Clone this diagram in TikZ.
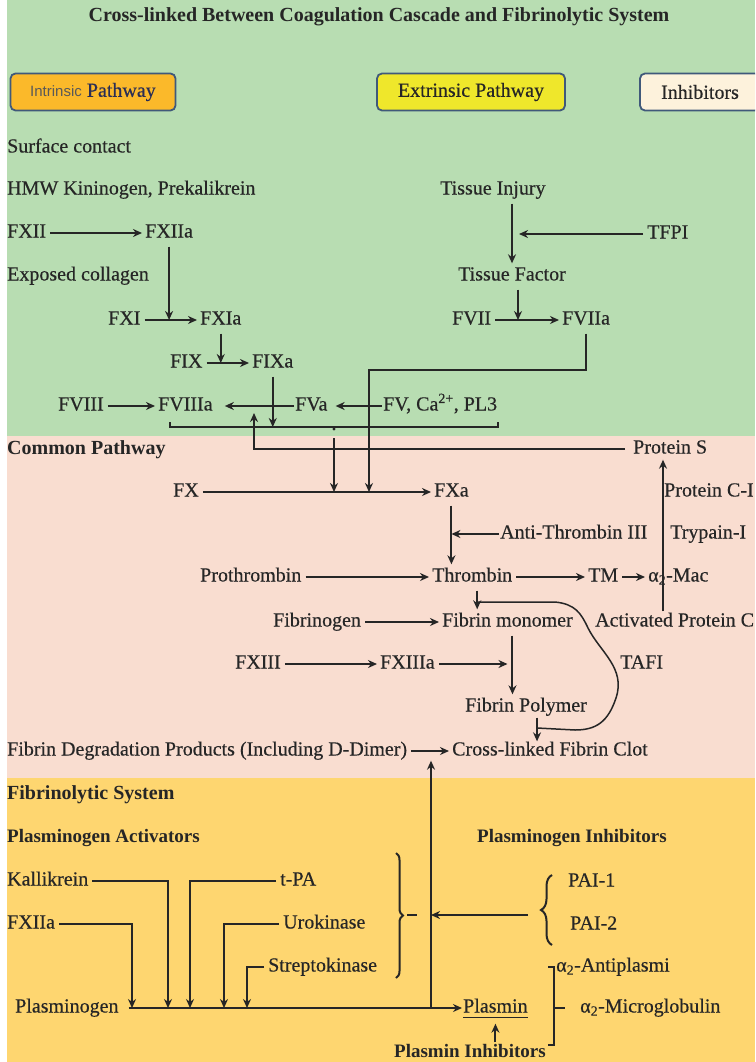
\documentclass[tikz,border=0pt]{standalone}
\usepackage{fontspec}
\setmainfont{Liberation Serif}[UprightFeatures={FakeBold=0.4}]
\setsansfont{Liberation Sans}
\usetikzlibrary{arrows.meta,decorations.pathreplacing}
\definecolor{bggreen}{HTML}{B8DDB2}
\definecolor{bgpink}{HTML}{F9DDD0}
\definecolor{bgyellow}{HTML}{FED670}
\definecolor{ink}{HTML}{262626}
\definecolor{edge}{HTML}{40597A}
\definecolor{intrfill}{HTML}{FBB92A}
\definecolor{extrfill}{HTML}{EFE72B}
\definecolor{inhfill}{HTML}{FDF2DC}
\definecolor{navy}{HTML}{2A2E55}
\begin{document}
\begin{tikzpicture}[x=1pt,y=-1pt,
  lbl/.style={anchor=west, inner sep=0pt, text height=14pt, text depth=5pt, text=ink, font=\fontsize{20}{24}\selectfont},
  hdr/.style={lbl, font=\fontsize{20}{24}\selectfont\bfseries},
  subhdr/.style={lbl, font=\fontsize{19}{23}\selectfont\bfseries},
  ln/.style={draw=ink, line width=2pt},
  arr/.style={ln, -{Stealth[length=9pt,width=8pt]}, shorten <=4pt, shorten >=3pt},
  tagbox/.style={draw=edge, line width=1.8pt, rounded corners=5pt, minimum height=37pt, inner sep=0pt, text=ink, font=\fontsize{20}{24}\selectfont}]
\clip (0,0) rectangle (755,1062);
\fill[white] (0,0) rectangle (755,1062);
\fill[bggreen] (7,0) rectangle (755,436);
\fill[bgpink] (7,436) rectangle (755,778);
\fill[bgyellow] (7,778) rectangle (755,1062);

\node[inner sep=0pt, text=ink, font=\fontsize{20}{24}\selectfont\bfseries] (title) at (379,17) {Cross-linked Between Coagulation Cascade and Fibrinolytic System};
\node[tagbox, fill=intrfill, minimum width=165pt] (intr) at (93,92) {{\sffamily\fontsize{15}{18}\selectfont\color{black!65}Intrinsic} {\color{navy}Pathway}};
\node[tagbox, fill=extrfill, minimum width=188pt] (extr) at (471,92) {Extrinsic Pathway};
\node[tagbox, fill=inhfill, minimum width=120pt] (inhib) at (700,92) {Inhibitors};

% intrinsic and extrinsic
\node[lbl] (surf) at (7,148) {Surface contact};
\node[lbl] (hmw) at (7,190) {HMW Kininogen, Prekalikrein};
\node[lbl] (fxii) at (7,233) {FXII};
\node[lbl] (fxiia) at (145,233) {FXIIa};
\node[lbl] (expcol) at (7,276) {Exposed collagen};
\node[lbl] (fxi) at (108,320) {FXI};
\node[lbl] (fxia) at (200,320) {FXIa};
\node[lbl] (fix) at (170,363) {FIX};
\node[lbl] (fixa) at (252,363) {FIXa};
\node[lbl] (fviii) at (58,406) {FVIII};
\node[lbl] (fviiia) at (158,406) {FVIIIa};
\node[lbl] (fva) at (295,406) {FVa};
\node[lbl] (fvmix) at (383,406) {FV, Ca\textsuperscript{2+}, PL3};
\node[lbl] (tinj) at (440,190) {Tissue Injury};
\node[lbl] (tfpi) at (647,234) {TFPI};
\node[lbl] (tfac) at (458,276) {Tissue Factor};
\node[lbl] (fvii) at (452,320) {FVII};
\node[lbl] (fviia) at (562,320) {FVIIa};

% common pathway
\node[hdr] (common) at (7,450) {Common Pathway};
\node[lbl] (prots) at (633,449) {Protein S};
\node[lbl] (fx) at (173,492) {FX};
\node[lbl] (fxa) at (434,492) {FXa};
\node[lbl] (protci) at (664,492) {Protein C-I};
\node[lbl] (antith) at (500,534) {Anti-Thrombin III};
\node[lbl] (trypain) at (670,534) {Trypain-I};
\node[lbl] (prothr) at (200,577) {Prothrombin};
\node[lbl] (thromb) at (432,577) {Thrombin};
\node[lbl] (tm) at (588,577) {TM};
\node[lbl] (amac) at (648,577) {α\textsubscript{2}-Mac};
\node[lbl] (fibgen) at (273,622) {Fibrinogen};
\node[lbl] (fibmono) at (442,622) {Fibrin monomer};
\node[lbl] (apc) at (595,622) {Activated Protein C};
\node[lbl] (fxiii) at (235,664) {FXIII};
\node[lbl] (fxiiia) at (380,664) {FXIIIa};
\node[lbl] (tafi) at (620,664) {TAFI};
\node[lbl] (fibpoly) at (465,707) {Fibrin Polymer};
\node[lbl] (fdp) at (7,751) {Fibrin Degradation Products (Including D-Dimer)};
\node[lbl] (clot) at (452,751) {Cross-linked Fibrin Clot};

% fibrinolytic system
\node[hdr] (fibsys) at (7,795) {Fibrinolytic System};
\node[subhdr] (plact) at (7,838) {Plasminogen Activators};
\node[subhdr] (plinh) at (477,838) {Plasminogen Inhibitors};
\node[lbl] (kall) at (7,881) {Kallikrein};
\node[lbl] (tpa) at (280,881) {t-PA};
\node[lbl] (fxiiab) at (7,924) {FXIIa};
\node[lbl] (urok) at (283,924) {Urokinase};
\node[lbl] (strep) at (268,967) {Streptokinase};
\node[lbl] (pai1) at (568,882) {PAI-1};
\node[lbl] (pai2) at (570,925) {PAI-2};
\node[lbl] (aanti) at (556,967) {α\textsubscript{2}-Antiplasmi};
\node[lbl] (amicro) at (580,1008) {α\textsubscript{2}-Microglobulin};
\node[lbl] (plgen) at (15,1008) {Plasminogen};
\node[lbl] (plasmin) at (463,1008) {Plasmin};
\node[subhdr] (plinhib) at (394,1053) {Plasmin Inhibitors};

\coordinate (brkl) at (170,427);
\coordinate (brkr) at (498,427);
\coordinate (brkdot) at (334,429);
\coordinate (fviiabend) at (369,370);
\coordinate (pstip) at (254,413);
\coordinate (monodrop) at ([xshift=5pt]fibmono.south);
\coordinate (tafia) at (477,602);
\coordinate (tafib) at (537,728);
\coordinate (kallin) at (168,1008);
\coordinate (fxin) at (132,1008);
\coordinate (tpain) at (190,1008);
\coordinate (urokin) at (224,1008);
\coordinate (strepin) at (247,1008);
\coordinate (clotup) at (431,1008);
\coordinate (paitip) at (540,915);

\draw[arr] (fxii) -- (fxiia);
\draw[arr, shorten >=0pt] (fxiia.south) -- (fxiia.south |- fxi.east);
\draw[arr] (fxi) -- (fxia);
\draw[arr, shorten >=0pt] (fxia.south) -- (fxia.south |- fix.east);
\draw[arr] (fix) -- (fixa);
\draw[arr] (fviii) -- (fviiia);
\draw[arr, shorten <=1pt, shorten >=12pt] (fva) -- (fviiia);
\draw[arr, shorten <=1pt, shorten >=8pt] (fvmix) -- (fva);
\draw[ln] ([yshift=5pt]brkl) -- (brkl) -- (brkr) -- ([yshift=5pt]brkr);
\draw[arr, shorten >=0pt] (fixa.south) -- (fixa.south |- brkl);
\fill[ink] (brkdot) circle (1.6pt);
\draw[arr, shorten <=9pt, shorten >=0pt] (brkdot) -- (brkdot |- fx.east);
\draw[arr, shorten >=0pt] (fviia.south) |- (fviiabend) -- (fviiabend |- fx.east);
\draw[arr, shorten <=8pt, shorten >=0pt] (prots.west) -| (pstip);
\draw[arr] (tinj.south -| tfac.north) -- (tfac.north);
\draw[arr, shorten >=7pt] (tfpi) -- (tfpi -| tfac.north);
\draw[arr, shorten >=0pt] ([xshift=6pt]tfac.south) -- ([xshift=6pt]tfac.south |- fvii.east);
\draw[arr] (fvii) -- (fviia);

\draw[arr] (fx) -- (fxa);
\draw[arr] (fxa.south) -- (fxa.south |- thromb.north);
\draw[arr, shorten <=1pt, shorten >=0pt] (antith) -- (antith -| fxa.south);
\draw[arr] (prothr) -- (thromb);
\draw[arr] (thromb) -- (tm);
\draw[arr] (tm) -- (amac);
\draw[arr, shorten <=1pt, shorten >=1pt] ([xshift=68pt]apc.north west) -- ([xshift=30pt]prots.south west);
\draw[arr] ([xshift=5pt]thromb.south) -- ([xshift=5pt]thromb.south |- fibmono.north);
\draw[ln, line width=1.5pt] (tafia) -- (555,602) .. controls (575,604) and (581,613) .. (588,628) .. controls (600,652) and (626,668) .. (616,698) .. controls (608,722) and (596,730) .. (575,730) -- (tafib);
\draw[arr] (fibgen) -- (fibmono);
\draw[arr] (monodrop) -- (monodrop |- fibpoly.north);
\draw[arr] (fxiii) -- (fxiiia);
\draw[arr, shorten >=5pt] (fxiiia) -- (fxiiia -| monodrop);
\draw[arr, shorten <=1pt, shorten >=0pt] ([xshift=11pt]fibpoly.south) -- ([xshift=11pt]fibpoly.south |- clot.north);
\draw[arr] (fdp) -- (clot);

\draw[arr, shorten >=0pt] (kall) -| (kallin);
\draw[arr, shorten >=0pt] (fxiiab) -| (fxin);
\draw[arr, shorten >=0pt] (tpa) -| (tpain);
\draw[arr, shorten >=0pt] (urok) -| (urokin);
\draw[arr, shorten >=0pt] (strep) -| (strepin);
\draw[arr, shorten <=10pt, shorten >=1pt] (plgen) -- (plasmin);
\draw[arr, shorten <=0pt, shorten >=0pt] (clotup) -- (clotup |- clot.south);
\draw[ln, line width=1.4pt] (plasmin.south west) -- (plasmin.south east);
\draw[ln, decorate, decoration={brace, amplitude=7pt}] (396,853) -- (396,978);
\draw[ln] (407,915) -- (417,915);
\draw[ln, decorate, decoration={brace, amplitude=11pt}] (552,945) -- (552,875);
\draw[arr, shorten <=12pt, shorten >=0pt] (paitip) -- (paitip -| clotup);
\draw[ln] (548,967) -- (554,967) -- (554,1045) -- (548,1045);
\draw[ln] (554,1008) -- (565,1008);
\draw[arr, shorten <=1pt, shorten >=6pt] (plasmin.south |- plinhib.north) -- (plasmin.south);
\end{tikzpicture}
\end{document}
